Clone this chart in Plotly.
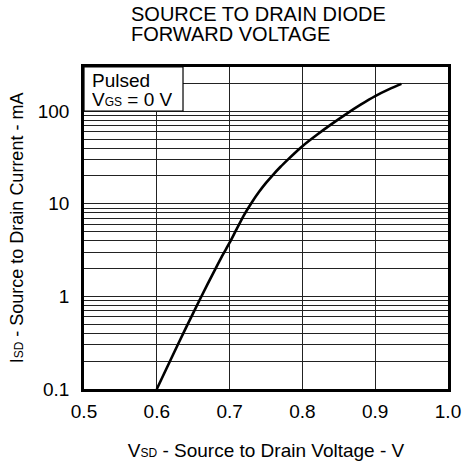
import math
import plotly.graph_objects as go

# Curve data (V, mA)
vsd = [0.600, 0.620, 0.640, 0.660, 0.680, 0.690, 0.700, 0.710, 0.720, 0.730, 0.740,
       0.750, 0.760, 0.770, 0.780, 0.790, 0.800, 0.820, 0.840, 0.860, 0.880, 0.900,
       0.920, 0.936]
isd = [0.1, 0.215, 0.457, 0.955, 1.95, 2.75, 3.8, 5.4, 7.6, 10.2, 13.3,
       16.8, 20.7, 25.1, 30, 35.6, 41.9, 55.6, 72.4, 93, 117.5, 145.5,
       174, 197]

x_ticks = [0.5, 0.6, 0.7, 0.8, 0.9, 1.0]
x_tick_text = ["0.5", "0.6", "0.7", "0.8", "0.9", "1.0"]

y_grid = [0.1, 0.2, 0.3, 0.4, 0.5, 0.6, 0.7, 0.8, 0.9,
          1, 2, 3, 4, 5, 6, 7, 8, 9,
          10, 20, 30, 40, 50, 60, 70, 80, 90,
          100, 200]
y_labels = {0.1: "0.1", 1: "1", 10: "10", 100: "100"}
y_tick_text = [y_labels.get(v, "") for v in y_grid]

y_min, y_max = 0.1, 300
x_min, x_max = 0.5, 1.0
legend_box_right = 0.636
legend_box_bottom = 100

FONT = "Liberation Sans, Arial, Helvetica, sans-serif"

W, H = 465, 470
ML, MR, MT, MB = 84, 17, 67, 81
PW = W - ML - MR
PH = H - MT - MB


def px_x(px):
    return (px - ML) / PW


def px_y(py):
    return (H - MB - py) / PH


def log_paper_y(v):
    return (math.log10(v) - math.log10(y_min)) / (math.log10(y_max) - math.log10(y_min))


fig = go.Figure()
fig.add_trace(go.Scatter(
    x=vsd, y=isd, mode="lines",
    line=dict(color="black", width=2.6, shape="spline", smoothing=0.6),
    hoverinfo="skip", showlegend=False,
))

sub = '<span style="font-size:12px">{}</span>'

fig.update_layout(
    width=W, height=H,
    margin=dict(l=ML, r=MR, t=MT, b=MB, pad=0, autoexpand=False),
    paper_bgcolor="white", plot_bgcolor="white",
    font=dict(family=FONT, size=19, color="black"),
    showlegend=False,
    xaxis=dict(
        range=[x_min, x_max], tickvals=x_ticks, ticktext=x_tick_text,
        showgrid=True, gridcolor="#222", gridwidth=1,
        showline=True, linecolor="black", linewidth=2.5, mirror=True,
        ticks="", ticklabelstandoff=3, zeroline=False, automargin=False,
        tickfont=dict(size=19),
        title=dict(text="V" + sub.format("SD") + " - Source to Drain Voltage - V",
                   font=dict(size=19), standoff=24),
    ),
    yaxis=dict(
        type="log", range=[math.log10(y_min), math.log10(y_max)],
        tickvals=y_grid, ticktext=y_tick_text,
        showgrid=True, gridcolor="#222", gridwidth=1,
        showline=True, linecolor="black", linewidth=2.5, mirror=True,
        ticks="", ticklabelstandoff=8, zeroline=False, automargin=False,
        tickfont=dict(size=19),
        title=dict(text="I" + sub.format("SD") + " - Source to Drain Current - mA",
                   font=dict(size=18), standoff=10),
    ),
)

# Legend box (white panel covering the grid)
fig.add_shape(type="rect", xref="x", yref="paper",
              x0=x_min, x1=legend_box_right, y0=log_paper_y(legend_box_bottom), y1=1,
              fillcolor="white", line=dict(color="black", width=1.2), layer="above")

fig.add_annotation(text="Pulsed", xref="paper", yref="paper",
                   x=px_x(90), y=px_y(79.5), xanchor="left", yanchor="middle",
                   showarrow=False, font=dict(size=19), height=16)
fig.add_annotation(text="V" + sub.format("GS") + " = 0 V", xref="paper", yref="paper",
                   x=px_x(90), y=px_y(99), xanchor="left", yanchor="middle",
                   showarrow=False, font=dict(size=19), height=16)

# Title (two lines)
fig.add_annotation(text="SOURCE TO DRAIN DIODE", xref="paper", yref="paper",
                   x=px_x(129), y=px_y(14.5), xanchor="left", yanchor="middle",
                   showarrow=False, font=dict(size=20), height=18)
fig.add_annotation(text="FORWARD VOLTAGE", xref="paper", yref="paper",
                   x=px_x(129), y=px_y(34), xanchor="left", yanchor="middle",
                   showarrow=False, font=dict(size=20), height=18)

fig.write_html("out.html",
               config={"displayModeBar": False},
               post_script="document.body.style.margin='0px';document.body.style.padding='0px';")
